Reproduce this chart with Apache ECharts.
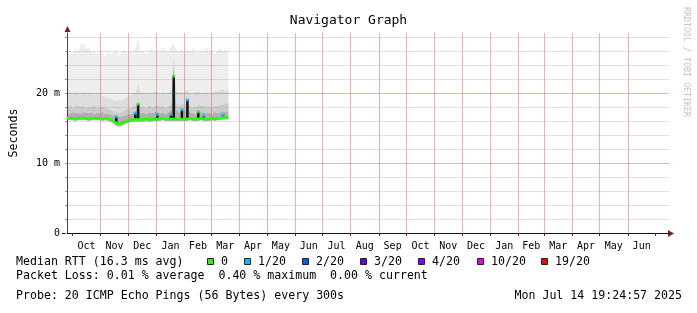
<!DOCTYPE html>
<html><head><meta charset="utf-8">
<script src="https://cdn.jsdelivr.net/npm/echarts@6/dist/echarts.min.js"></script>
<style>html,body{margin:0;padding:0;background:#fff}#c{width:697px;height:313px}</style>
</head><body><div id="c"></div>
<script>
// ---- data (ms), one sample every 3 days starting 2023-09-25 ----
const sampleStart = '2023-09-25';
const sampleStepDays = 3;
const smokeMin = [16.1,16.1,16.1,16.0,16.1,16.1,16.1,16.1,16.0,16.1,
  16.1,16.1,16.1,16.0,16.1,16.0,15.9,15.6,15.3,15.2,
  15.3,15.5,15.7,15.8,15.9,15.9,15.9,15.9,15.9,16.0,
  15.9,15.9,16.0,16.0,16.0,16.1,16.0,16.0,16.0,16.0,
  16.0,16.0,16.0,16.0,16.0,16.1,16.0,16.0,16.0,16.1,
  16.0,16.0,16.0,16.1,16.0,16.1,16.1,16.2,16.2,16.2];
const smokeL4 = [17.2,17.0,17.3,17.1,17.2,17.0,17.3,17.2,17.1,17.3,
  17.0,17.2,17.1,17.3,17.0,17.1,16.9,16.8,16.7,16.6,
  16.7,16.8,16.9,17.0,17.1,17.4,18.0,17.1,17.2,17.0,
  17.2,17.1,17.3,17.4,17.1,17.2,17.0,17.3,17.5,24.0,
  17.6,17.2,17.8,17.3,18.6,17.2,17.1,17.0,17.6,17.2,
  17.3,17.1,17.2,17.0,17.3,17.1,17.2,17.4,17.3,17.5];
const smokeL3 = [18.0,18.2,17.9,18.1,18.3,18.0,18.2,17.9,18.1,18.0,
  18.2,17.8,18.1,18.0,17.9,17.8,17.6,17.4,17.3,17.2,
  17.3,17.5,17.7,17.9,18.0,18.2,18.9,18.0,18.1,17.9,
  18.2,18.0,18.1,18.3,18.0,18.2,17.9,18.1,18.4,24.8,
  18.5,18.1,18.6,18.2,19.2,18.1,18.0,17.9,18.4,18.1,
  18.2,18.0,18.1,17.9,18.2,18.1,18.3,18.4,18.5,18.6];
const smokeL2 = [20.0,20.3,19.9,20.2,20.1,19.8,20.2,20.0,19.9,20.1,
  19.7,20.0,19.9,19.6,19.5,19.3,19.2,19.0,18.9,19.1,
  19.0,19.2,19.4,19.6,19.8,20.0,21.4,19.9,20.1,19.8,
  20.0,19.9,20.2,20.0,19.8,20.1,19.9,20.0,20.4,25.3,
  20.3,20.0,20.2,19.9,20.5,20.0,19.8,20.1,20.2,19.9,
  20.0,20.1,19.8,20.0,20.2,20.3,20.4,20.5,20.3,20.6];
const smokeMax = [25.9,26.3,25.6,26.4,25.8,26.9,27.1,26.2,26.6,25.7,
  26.1,25.4,26.3,25.9,25.2,26.0,25.5,25.8,26.2,25.3,
  25.9,26.4,25.6,26.1,25.8,26.5,27.9,25.8,26.2,25.5,
  26.0,26.4,25.7,26.1,25.9,26.6,26.0,25.8,26.8,27.0,
  26.2,25.9,26.4,25.6,26.3,25.8,26.5,26.0,25.7,26.2,
  25.9,26.6,25.8,26.3,25.5,26.1,26.4,25.9,26.2,25.8];
const medianRtt = [16.4,16.4,16.4,16.3,16.4,16.4,16.4,16.4,16.3,16.4,
  16.4,16.4,16.4,16.3,16.4,16.3,16.2,16.0,15.7,15.6,
  15.7,15.8,16.0,16.1,16.2,16.2,16.2,16.2,16.2,16.3,
  16.2,16.2,16.3,16.3,16.3,16.4,16.3,16.3,16.3,16.3,
  16.3,16.3,16.3,16.3,16.3,16.4,16.3,16.3,16.3,16.4,
  16.3,16.3,16.3,16.4,16.3,16.4,16.4,16.5,16.5,16.5];
// median spikes: sample index, peak median (ms), loss class
const spikeSample = [18, 25, 26, 33, 38, 39, 42, 44, 48, 50, 57];
const spikeTop    = [16.6, 17.1, 18.4, 16.9, 16.9, 22.4, 17.6, 19.0, 17.3, 16.7, 16.8];
const spikeLoss   = ['1/20','1/20','0','1/20','1/20','0','1/20','1/20','0','1/20','1/20'];

const monthStarts = ['2023-10-01','2023-11-01','2023-12-01','2024-01-01','2024-02-01','2024-03-01',
  '2024-04-01','2024-05-01','2024-06-01','2024-07-01','2024-08-01','2024-09-01','2024-10-01',
  '2024-11-01','2024-12-01','2025-01-01','2025-02-01','2025-03-01','2025-04-01','2025-05-01',
  '2025-06-01','2025-07-01'];
const monthLabels = ['Oct','Nov','Dec','Jan','Feb','Mar','Apr','May','Jun','Jul','Aug','Sep',
  'Oct','Nov','Dec','Jan','Feb','Mar','Apr','May','Jun'];
const yTicksMajor = [0, 10, 20];
const yGridLines = [2, 4, 6, 8, 10, 12, 14, 16, 18, 20, 22, 24, 26, 28];
const lossLabels = ['0','1/20','2/20','3/20','4/20','10/20','19/20'];
const lossColors = ['#26ff00','#00b8ff','#0059ff','#5e00ff','#7e00ff','#dd00ff','#ff0000'];

// ---- build ----
const DAY = 86400000;
const toT = s => Date.parse(s + 'T00:00:00Z');
const t0 = toT(sampleStart);
const times = smokeMin.map((_, i) => t0 + i * sampleStepDays * DAY);
const xMin = toT('2023-09-25'), xMax = toT('2025-07-16');
const yMax = 28.57;
const monthT = monthStarts.map(toT);
const labelT = monthLabels.map((_, i) => (monthT[i] + monthT[i + 1]) / 2);
const FONT = "'DejaVu Sans Mono', monospace";
const minorCol = 'rgba(143,143,143,0.26)';
const majorCol = 'rgba(222,79,79,0.45)';

// smoke band: one polygon between a lower and an upper series, placed via api.coord
function bandSeries(name, lower, upper, color) {
  return { type: 'custom', name, silent: true, z: 1, clip: true,
    data: times.map((t, i) => [t, lower[i], upper[i]]),
    encode: { x: 0, y: [1, 2] },
    renderItem(params, api) {
      if (params.dataIndex !== 0) return null;
      const top = times.map((t, i) => api.coord([t, upper[i]]));
      const bot = times.map((t, i) => api.coord([t, lower[i]])).reverse();
      return { type: 'polygon', shape: { points: top.concat(bot) }, style: { fill: color } };
    } };
}
const series = [
  bandSeries('smoke1', smokeL2, smokeMax, '#eeeeee'),
  bandSeries('smoke2', smokeL3, smokeL2, '#dddddd'),
  bandSeries('smoke3', smokeL4, smokeL3, '#cbcbcb'),
  bandSeries('smoke4', smokeMin, smokeL4, '#b0b0b0'),
  { type: 'line', name: 'Median RTT', symbol: 'none', z: 3,
    lineStyle: { color: lossColors[0], width: 2.5 },
    data: times.map((t, i) => [t, medianRtt[i]]),
    markLine: { silent: true, symbol: ['none', 'none'], z: 2, animation: false,
      label: { show: false }, emphasis: { disabled: true },
      data: yGridLines.map(v => ({ yAxis: v,
        lineStyle: { type: 'solid', width: 1, color: yTicksMajor.indexOf(v) >= 0 ? majorCol : minorCol } })) } },
  { type: 'custom', name: 'spikes', z: 3,
    data: spikeSample.map((s, k) => [times[s], medianRtt[s], spikeTop[k]]),
    encode: { x: 0, y: [1, 2] },
    renderItem(params, api) {
      const lo = api.coord([api.value(0), api.value(1)]);
      const hi = api.coord([api.value(0), api.value(2)]);
      return { type: 'rect', shape: { x: lo[0] - 1.25, y: hi[1], width: 2.5, height: lo[1] - hi[1] },
        style: { fill: '#111' } };
    } }
];
lossLabels.forEach((lab, li) => {
  const pts = [];
  spikeSample.forEach((s, k) => { if (spikeLoss[k] === lab) pts.push([times[s], spikeTop[k]]); });
  if (pts.length) series.push({ type: 'scatter', name: lab, symbol: 'rect', symbolSize: [3, 3], z: 4,
    itemStyle: { color: lossColors[li] }, data: pts });
});

// legend / footer graphics
const graphic = [];
const txt = (x, y, text, extra) => Object.assign({ type: 'text', x, y,
  style: { text, font: '11.6px ' + FONT, fill: '#000', verticalAlign: 'middle', align: 'left' } }, extra || {});
graphic.push(txt(16, 261.5, 'Median RTT (16.3 ms avg)'));
const legendX = [207, 244, 302, 360, 418, 477, 541];
lossLabels.forEach((lab, i) => {
  graphic.push({ type: 'rect', shape: { x: legendX[i] + 0.5, y: 258.5, width: 6, height: 6 },
    style: { fill: lossColors[i], stroke: '#222', lineWidth: 1 } });
  graphic.push(txt(legendX[i] + 14, 261.5, lab));
});
graphic.push(txt(16, 275.5, 'Packet Loss: 0.01 % average  0.40 % maximum  0.00 % current'));
graphic.push(txt(16, 295.5, 'Probe: 20 ICMP Echo Pings (56 Bytes) every 300s'));
const dateT = txt(682, 295.5, 'Mon Jul 14 19:24:57 2025'); dateT.style.align = 'right'; graphic.push(dateT);
graphic.push({ type: 'text', x: 686, y: 62, rotation: -Math.PI / 2,
  style: { text: 'RRDTOOL / TOBI OETIKER', font: '8.3px ' + FONT, fill: '#c4c4c4', align: 'center', verticalAlign: 'middle' } });
graphic.push({ type: 'line', shape: { x1: 62, y1: 233.5, x2: 668, y2: 233.5 }, style: { stroke: '#111', lineWidth: 1 } });
graphic.push({ type: 'polygon', shape: { points: [[668, 230], [674, 233.5], [668, 237]] }, style: { fill: '#7f1f1f' } });
graphic.push({ type: 'polygon', shape: { points: [[64.5, 32], [67.5, 26], [70.5, 32]] }, style: { fill: '#7f1f1f' } });

const chart = echarts.init(document.getElementById('c'), null, { renderer: 'canvas' });
chart.setOption({
  animation: false,
  backgroundColor: '#ffffff',
  title: { text: 'Navigator Graph', left: 'center', top: 9,
    textStyle: { fontFamily: FONT, fontSize: 13, fontWeight: 'normal', color: '#000' } },
  grid: { left: 67, right: 28, top: 33, bottom: 80 },
  xAxis: { type: 'value', min: xMin, max: xMax, z: 2, scale: true,
    axisLine: { show: true, onZero: false, lineStyle: { color: '#111', width: 1 } },
    axisTick: { show: true, customValues: monthT, length: 3, lineStyle: { color: '#333' } },
    axisLabel: { customValues: labelT, fontFamily: FONT, fontSize: 10, color: '#000', margin: 8,
      formatter: (v) => { const i = labelT.indexOf(v); return i >= 0 ? monthLabels[i] : ''; } },
    splitLine: { show: true, showMinLine: false, showMaxLine: false, lineStyle: { color: majorCol, width: 1 } } },
  yAxis: { type: 'value', min: 0, max: yMax, interval: 2, z: 2,
    name: 'Seconds', nameLocation: 'middle', nameGap: 47, nameRotate: 90,
    nameTextStyle: { fontFamily: FONT, fontSize: 11.6, color: '#000' },
    axisLine: { show: true, onZero: false, lineStyle: { color: '#444', width: 1 } },
    axisTick: { show: true, length: 2, lineStyle: { color: '#999' } },
    axisLabel: { fontFamily: FONT, fontSize: 10, color: '#000', margin: 7, showMaxLabel: false,
      formatter: (v) => yTicksMajor.indexOf(v) < 0 ? '' : (v === 0 ? '0' : v + ' m') },
    splitLine: { show: false } },
  series,
  graphic
});
</script></body></html>
